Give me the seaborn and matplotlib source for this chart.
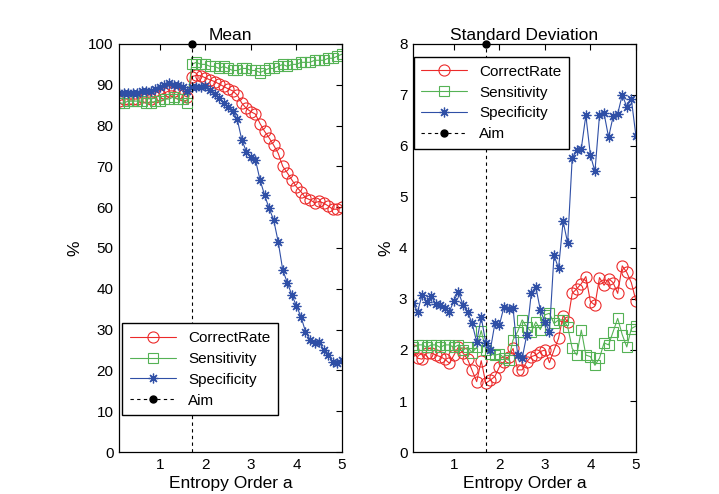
import numpy as np
import pandas as pd
import matplotlib
matplotlib.use('Agg')
import matplotlib.pyplot as plt
import seaborn as sns

sns.set_style('white')
plt.rcParams['font.family'] = ['Liberation Sans', 'DejaVu Sans']
plt.rcParams['text.color'] = 'black'
plt.rcParams['axes.labelcolor'] = 'black'
plt.rcParams['xtick.color'] = 'black'
plt.rcParams['ytick.color'] = 'black'

# entropy order a
order_a = [0.1, 0.2, 0.3, 0.4, 0.5, 0.6, 0.7, 0.8, 0.9, 1.0,
           1.1, 1.2, 1.3, 1.4, 1.5, 1.6, 1.7, 1.8, 1.9, 2.0,
           2.1, 2.2, 2.3, 2.4, 2.5, 2.6, 2.7, 2.8, 2.9, 3.0,
           3.1, 3.2, 3.3, 3.4, 3.5, 3.6, 3.7, 3.8, 3.9, 4.0,
           4.1, 4.2, 4.3, 4.4, 4.5, 4.6, 4.7, 4.8, 4.9, 5.0]
aim = 1.7

# mean (%)
mean_correct = [86, 86.5, 86.5, 86.5, 86.5, 87, 87, 86.5, 87, 87.5,
                88, 88.5, 88.5, 88, 87.5, 87, 92, 92.3, 92.2, 91.7,
                91.2, 90.8, 90.2, 89.6, 89, 88.5, 87.5, 85.5, 84.2, 83.4,
                82.8, 80.5, 78.6, 77, 75.2, 73.2, 70, 68.4, 66.7, 65,
                63.8, 62.3, 61.8, 61.1, 61.4, 61, 60.3, 59.5, 59.5, 60]
mean_sens = [85.5, 85.5, 86, 86, 86, 86, 85.5, 85.5, 86, 86,
             86.5, 86.5, 87, 86.5, 86.5, 85.5, 95, 95.5, 95, 95,
             94.5, 94.5, 94, 94.5, 94, 93.5, 93.5, 94, 94, 93.5,
             93.5, 93, 93.5, 94, 94, 94.5, 95, 94.5, 95, 95,
             95.5, 95.5, 95.5, 96, 96, 96, 96.5, 96.5, 97, 97.5]
mean_spec = [88, 88, 88, 88, 88, 88.5, 88.5, 88.5, 89, 89.5,
             90, 90.5, 90, 90, 89.5, 88.5, 89.5, 89.4, 89.4, 89.7,
             88.7, 87.8, 86.8, 85.5, 84.5, 83.5, 81.5, 76.5, 73.6, 72.4,
             71.6, 66.7, 63, 59.7, 56.9, 51.5, 44.6, 41.5, 38.5, 35.8,
             33.2, 29.5, 27.5, 26.6, 27, 25, 23.8, 22.1, 21.7, 22.5]

# standard deviation (%)
std_correct = [2.0, 1.84, 1.82, 1.94, 1.95, 1.9, 1.87, 1.82, 1.74, 1.9,
               2.06, 1.94, 1.82, 1.6, 1.38, 1.79, 1.35, 1.41, 1.48, 1.67,
               1.77, 1.87, 2.03, 1.61, 1.61, 1.77, 1.87, 1.9, 1.97, 2.0,
               1.75, 2.0, 2.23, 2.67, 2.55, 3.11, 3.2, 3.3, 3.44, 2.95,
               2.88, 3.42, 3.27, 3.4, 3.32, 3.11, 3.65, 3.52, 3.32, 2.97]
std_sens = [2.05, 2.1, 2.1, 2.05, 2.1, 2.1, 2.05, 2.1, 2.1, 2.05,
            2.1, 2.0, 2.05, 1.95, 2.05, 2.38, 2.0, 1.92, 1.9, 1.92,
            1.85, 1.8, 2.2, 2.36, 2.59, 2.45, 2.36, 2.55, 2.4, 2.69,
            2.72, 2.52, 2.59, 2.59, 2.46, 2.03, 1.9, 2.39, 1.9, 1.87,
            1.7, 1.84, 2.14, 2.1, 2.36, 2.62, 2.3, 2.06, 2.42, 2.47]
std_spec = [2.92, 2.75, 3.08, 2.95, 3.06, 2.9, 2.88, 2.82, 2.75, 2.97,
            3.14, 2.88, 2.75, 2.52, 2.16, 2.64, 2.14, 2.0, 2.52, 2.49,
            2.85, 2.8, 2.82, 1.9, 1.84, 2.29, 3.11, 3.24, 2.78, 2.55,
            2.36, 3.86, 3.6, 4.52, 4.1, 5.76, 5.92, 5.95, 6.6, 5.82,
            5.5, 6.6, 6.64, 6.17, 6.58, 6.63, 7.0, 6.77, 6.92, 6.2]

red = '#ec2a2a'
green = '#55b255'
blue = '#2f4fa6'
star = (8, 2, 0)


def draw_panel(ax, correct, sens, spec, ytop, title):
    df = pd.DataFrame({'a': order_a, 'CorrectRate': correct,
                       'Sensitivity': sens, 'Specificity': spec})
    sns.lineplot(data=df, x='a', y='CorrectRate', ax=ax, color=red, lw=0.8,
                 marker='o', ms=8, mfc='none', mec=red, mew=0.8, label='CorrectRate')
    sns.lineplot(data=df, x='a', y='Sensitivity', ax=ax, color=green, lw=0.8,
                 marker='s', ms=7.5, mfc='none', mec=green, mew=0.8, label='Sensitivity')
    sns.lineplot(data=df, x='a', y='Specificity', ax=ax, color=blue, lw=0.8,
                 marker=star, ms=7, mec=blue, mew=0.9, label='Specificity')
    ax.plot([aim, aim], [0, ytop], color='black', lw=0.8, ls=(0, (3, 3)),
            marker='o', ms=5, markevery=[1], clip_on=False, label='Aim', zorder=5)

    ax.set_xlim(0.1, 5)
    ax.set_ylim(0, ytop)
    ax.set_xticks([1, 2, 3, 4, 5])
    ax.set_title(title, fontsize=12.5, pad=3)
    ax.set_xlabel('Entropy Order a', fontsize=12.5, labelpad=3)
    ax.set_ylabel('%', fontsize=12.5)
    ax.tick_params(direction='in', top=True, right=True, length=4,
                   width=0.8, labelsize=11, pad=4)
    for s in ax.spines.values():
        s.set_color('black')
        s.set_linewidth(0.9)


fig = plt.figure(figsize=(7.19, 4.94), dpi=100)
ax1 = fig.add_axes([0.1655, 0.085, 0.310, 0.826])
ax2 = fig.add_axes([0.5744, 0.085, 0.310, 0.826])

leg_kw = dict(fontsize=11, frameon=True, fancybox=False, edgecolor='black',
              framealpha=1, borderaxespad=0, handlelength=3.0,
              labelspacing=0.45, borderpad=0.5)

draw_panel(ax1, mean_correct, mean_sens, mean_spec, 100, 'Mean')
ax1.set_yticks(range(0, 101, 10))
ax1.legend(loc='lower left', bbox_to_anchor=(0.015, 0.09), **leg_kw)

draw_panel(ax2, std_correct, std_sens, std_spec, 8, 'Standard Deviation')
ax2.set_yticks(range(0, 9))
ax2.legend(loc='upper left', bbox_to_anchor=(0.003, 0.968), **leg_kw)

fig.savefig('out.png', dpi=100)
